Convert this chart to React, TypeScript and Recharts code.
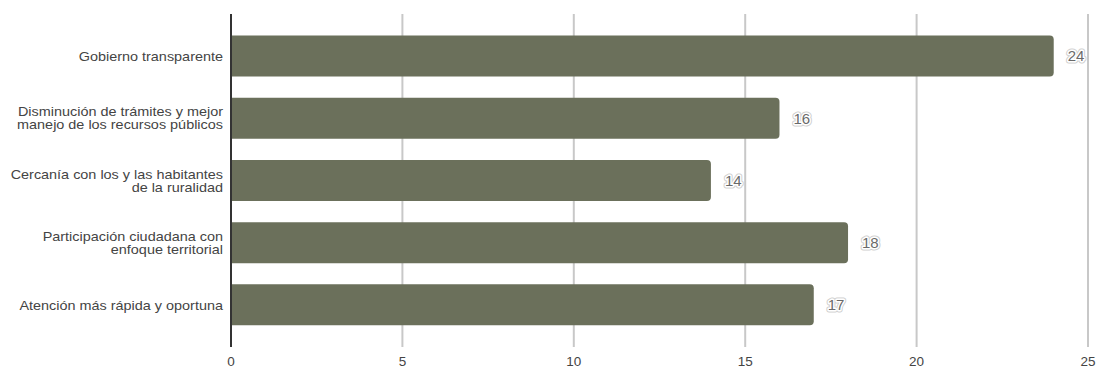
import { Bar, BarChart, CartesianGrid, LabelList, XAxis, YAxis } from "recharts";

// categories use "\n" where the original label wraps
const categories = [
  "Gobierno transparente",
  "Disminución de trámites y mejor\nmanejo de los recursos públicos",
  "Cercanía con los y las habitantes\nde la ruralidad",
  "Participación ciudadana con\nenfoque territorial",
  "Atención más rápida y oportuna",
];
const votes = [24, 16, 14, 18, 17];
const xTicks = [0, 5, 10, 15, 20, 25];

const data = categories.map((name, i) => ({ name, value: votes[i] }));

const FONT = "'Liberation Sans', Arial, sans-serif";
const BAR_COLOR = "#6b705b";
// the original text is a bit wider than it is tall
const STRETCH = 1.11;

function CategoryTick({ x, y, payload }: any) {
  const lines = String(payload.value).split("\n");
  const lh = 13;
  const start = -((lines.length - 1) * lh) / 2;
  return (
    <text
      x={x}
      y={y}
      textAnchor="end"
      fill="#444"
      fontSize={13}
      fontFamily={FONT}
      transform={`translate(${x} 0) scale(${STRETCH} 1) translate(${-x} 0)`}
    >
      {lines.map((line, i) => (
        <tspan key={i} x={x} y={y + start + i * lh} dy="0.355em">
          {line}
        </tspan>
      ))}
    </text>
  );
}

function ValueLabel({ x, y, width, height, value }: any) {
  const tx = x + width + 14;
  const ty = y + height / 2;
  return (
    <g fontFamily={FONT} fontSize={15}>
      <text x={tx} y={ty} dy="0.355em" stroke="#d0d0d0" strokeWidth={5} strokeLinejoin="round" fill="none">
        {value}
      </text>
      <text x={tx} y={ty} dy="0.355em" stroke="#fff" strokeWidth={3} strokeLinejoin="round" fill="#fff">
        {value}
      </text>
      <text x={tx} y={ty} dy="0.355em" fill="#6a6a6a">
        {value}
      </text>
    </g>
  );
}

export default function App() {
  return (
    <div style={{ width: 1099, height: 369, background: "#fff" }}>
      <style>{`body{margin:0}`}</style>
      <BarChart
        width={1099}
        height={369}
        data={data}
        layout="vertical"
        margin={{ top: 14, right: 11, bottom: 0, left: 0 }}
        barCategoryGap="17%"
      >
        <CartesianGrid horizontal={false} stroke="#c8c8c8" strokeWidth={2} />
        <XAxis
          type="number"
          domain={[0, 25]}
          ticks={xTicks}
          axisLine={false}
          tickLine={false}
          tickSize={0}
          tickMargin={9}
          height={22}
          tick={{ fill: "#444", fontSize: 13.5, fontFamily: FONT }}
        />
        <YAxis
          type="category"
          dataKey="name"
          width={231}
          axisLine={{ stroke: "#333", strokeWidth: 2 }}
          tickLine={false}
          tickSize={0}
          tickMargin={8}
          padding={{ top: 11, bottom: 11 }}
          tick={<CategoryTick />}
          interval={0}
        />
        <Bar dataKey="value" fill={BAR_COLOR} radius={[0, 4, 4, 0]} isAnimationActive={false}>
          <LabelList dataKey="value" content={<ValueLabel />} />
        </Bar>
      </BarChart>
    </div>
  );
}
